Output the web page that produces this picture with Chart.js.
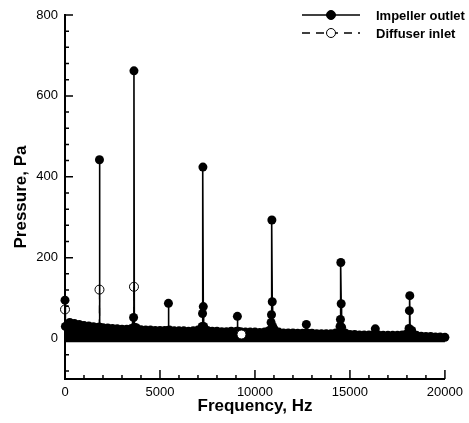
<!DOCTYPE html>
<html>
<head>
<meta charset="utf-8">
<title>Pressure spectrum</title>
<script src="https://cdn.jsdelivr.net/npm/chart.js@4.4.0/dist/chart.umd.min.js"></script>
<style>
  html, body { margin: 0; padding: 0; background: #fff; }
  canvas { display: block; }
</style>
</head>
<body>
<canvas id="spectrum" width="469" height="423"></canvas>
<script>
// impeller outlet noise floor, every 250 Hz
const noiseHz = [250, 500, 750, 1000, 1250, 1500, 1750, 2000, 2250, 2500, 2750, 3000, 3250, 3500, 3750,
    4000, 4250, 4500, 4750, 5000, 5250, 5500, 5750, 6000, 6250, 6500, 6750, 7000, 7500, 7750,
    8000, 8250, 8500, 8750, 9000, 9250, 9500, 9750, 10000, 10250, 10500, 10750, 11000, 11250, 11500, 11750,
    12000, 12250, 12500, 12750, 13000, 13250, 13500, 13750, 14000, 14250, 14750,
    15000, 15250, 15500, 15750, 16000, 16250, 16500, 16750, 17000, 17250, 17500, 17750,
    18000, 18250, 18500, 18750, 19000, 19250, 19500, 19750, 20000];
const noisePa = [40, 37, 35, 32, 31, 29, 28, 27, 26, 25, 24, 23, 23, 25, 27,
    22, 21, 21, 20, 20, 20, 21, 19, 19, 19, 18, 19, 21, 20, 18,
    18, 17, 17, 18, 17, 17, 16, 16, 16, 15, 16, 20, 24, 16, 14, 14,
    14, 13, 13, 14, 13, 12, 12, 12, 12, 14, 14,
    10, 10, 9, 9, 9, 9, 9, 8, 8, 8, 8, 9,
    12, 20, 8, 6, 5, 5, 4, 4, 3];

// tonal peaks (blade passing frequency and harmonics) with their neighbour bins
const peakHz = [0, 20, 1795, 1815, 1835, 3610, 3630, 3650, 5425, 5445, 5465,
    7220, 7240, 7260, 7280, 7300, 9055, 9075, 9095, 10850, 10870, 10890, 10910, 10930,
    12685, 12705, 12725, 14480, 14500, 14520, 14540, 14560, 16315, 16335, 16355,
    18110, 18130, 18150, 18170];
const peakPa = [95, 30, 28, 442, 28, 52, 662, 28, 20, 87, 20,
    30, 62, 424, 79, 30, 18, 55, 18, 40, 59, 293, 91, 30,
    14, 35, 14, 30, 47, 188, 86, 28, 10, 24, 10,
    25, 69, 106, 20];

// diffuser inlet: only the tones that rise out of the impeller band are visible
const diffuserHz = [0, 20, 1795, 1815, 1835, 3610, 3630, 3650, 9290, 20000];
const diffuserPa = [72, 5, 5, 121, 5, 5, 128, 5, 10, 3];

const seriesNames = ['Impeller outlet', 'Diffuser inlet'];
const xTickValues = [0, 5000, 10000, 15000, 20000];
const yTickValues = [0, 200, 400, 600, 800];

const impellerPoints = noiseHz.map((x, i) => ({ x: x, y: noisePa[i] }))
    .concat(peakHz.map((x, i) => ({ x: x, y: peakPa[i] })))
    .sort((a, b) => a.x - b.x);
const diffuserPoints = diffuserHz.map((x, i) => ({ x: x, y: diffuserPa[i] }));

Chart.defaults.font.family = "'Liberation Sans', Arial, sans-serif";
Chart.defaults.color = '#000';

// inward tick marks, major and minor
const axisTicks = {
    id: 'axisTicks',
    afterDraw(chart) {
        const { ctx, chartArea, scales } = chart;
        ctx.save();
        ctx.strokeStyle = '#000';
        ctx.lineWidth = 1.5;
        ctx.beginPath();
        for (let v = 1000; v <= 20000; v += 1000) {
            const px = scales.x.getPixelForValue(v);
            const len = v % 5000 === 0 ? 9 : 4;
            ctx.moveTo(px, chartArea.bottom);
            ctx.lineTo(px, chartArea.bottom - len);
        }
        for (let v = -80; v <= 800; v += 40) {
            const py = scales.y.getPixelForValue(v);
            const len = v % 200 === 0 ? 8 : 4;
            ctx.moveTo(chartArea.left, py);
            ctx.lineTo(chartArea.left + len, py);
        }
        ctx.stroke();
        ctx.restore();
    }
};

// legend with a line sample and its marker, stacked at top right
const lineLegend = {
    id: 'lineLegend',
    afterDraw(chart) {
        const ctx = chart.ctx;
        const rows = [15, 33];
        chart.data.datasets.forEach((ds, i) => {
            const y = rows[i];
            ctx.save();
            ctx.strokeStyle = '#000';
            ctx.lineWidth = 1.3;
            ctx.setLineDash(ds.borderDash || []);
            ctx.beginPath();
            ctx.moveTo(302, y);
            ctx.lineTo(360, y);
            ctx.stroke();
            ctx.setLineDash([]);
            ctx.beginPath();
            ctx.arc(331, y, 4.5, 0, Math.PI * 2);
            ctx.fillStyle = i === 0 ? '#000' : '#fff';
            ctx.fill();
            ctx.lineWidth = 1;
            ctx.stroke();
            ctx.fillStyle = '#000';
            ctx.font = "bold 13px 'Liberation Sans', Arial, sans-serif";
            ctx.textBaseline = 'middle';
            ctx.fillText(ds.label, 376, y + 1);
            ctx.restore();
        });
    }
};

new Chart(document.getElementById('spectrum'), {
    type: 'line',
    data: {
        datasets: [
            {
                label: seriesNames[0],
                data: impellerPoints,
                order: 1,
                borderColor: '#000',
                borderWidth: 1.6,
                backgroundColor: '#000',
                fill: { value: -9 },
                pointRadius: 4.5,
                pointBorderWidth: 0,
                pointBackgroundColor: '#000',
                clip: false
            },
            {
                label: seriesNames[1],
                data: diffuserPoints,
                order: 0,
                borderColor: '#000',
                borderWidth: 1,
                borderDash: [8, 6],
                fill: false,
                pointRadius: c => (c.raw && c.raw.y >= 10 ? 4.5 : 0),
                pointBorderWidth: 1,
                pointBorderColor: '#000',
                pointBackgroundColor: c => (c.raw && c.raw.y < 30 ? '#fff' : 'rgba(255,255,255,0)'),
                clip: false
            }
        ]
    },
    options: {
        responsive: false,
        animation: false,
        layout: { padding: { top: 15, right: 23, left: 0, bottom: 0 } },
        plugins: {
            legend: { display: false },
            tooltip: { enabled: false }
        },
        scales: {
            x: {
                type: 'linear',
                min: 0,
                max: 20000,
                afterBuildTicks: scale => { scale.ticks = xTickValues.map(v => ({ value: v })); },
                afterFit: scale => { scale.height = 44; },
                grid: { display: false, drawTicks: false },
                border: { display: true, color: '#000', width: 2 },
                ticks: { padding: 6, font: { size: 13 }, maxRotation: 0, callback: v => String(v) },
                title: {
                    display: true,
                    text: 'Frequency, Hz',
                    font: { size: 17, weight: 'bold' },
                    padding: { top: 0, bottom: 6 }
                }
            },
            y: {
                type: 'linear',
                min: -100,
                max: 800,
                afterBuildTicks: scale => { scale.ticks = yTickValues.map(v => ({ value: v })); },
                afterFit: scale => { scale.width = 65; },
                grid: { display: false, drawTicks: false },
                border: { display: true, color: '#000', width: 2 },
                ticks: { padding: 7, font: { size: 13 }, callback: v => String(v) },
                title: {
                    display: true,
                    text: 'Pressure, Pa',
                    font: { size: 17, weight: 'bold' },
                    padding: { top: 11, bottom: 0 }
                }
            }
        }
    },
    plugins: [axisTicks, lineLegend]
});
</script>
</body>
</html>
